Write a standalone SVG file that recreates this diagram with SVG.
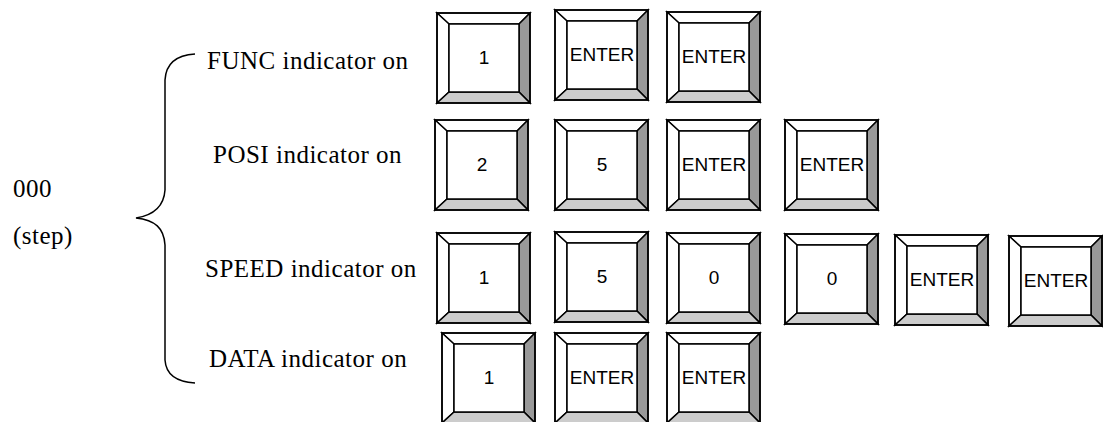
<svg xmlns="http://www.w3.org/2000/svg" xmlns:xlink="http://www.w3.org/1999/xlink" width="1103" height="422" viewBox="0 0 1103 422">
<style>
.lbl{font-family:"Liberation Serif","Times New Roman",serif;font-size:25px;letter-spacing:0.5px;fill:#000}
.key{font-family:"Liberation Sans",Arial,sans-serif;font-size:19px;fill:#000;text-anchor:middle}
.brace{fill:none;stroke:#000;stroke-width:1.5}
</style>
<defs>
<g id="keyshape" stroke="#000" stroke-width="1.5" stroke-linejoin="miter">
<polygon points="0,0 93,0 82,11 12,11" fill="#fff"/>
<polygon points="0,0 12,11 12,79 0,90" fill="#fff"/>
<polygon points="93,0 93,90 82,79 82,11" fill="#999"/>
<polygon points="0,90 12,79 82,79 93,90" fill="#ccc"/>
<rect x="12" y="11" width="70" height="68" fill="#fff"/>
<rect x="0" y="0" width="93" height="90" fill="none"/>
</g>
</defs>
<rect width="1103" height="422" fill="#fff"/>
<g id="labels">
<text class="lbl" x="13" y="197">000</text>
<text class="lbl" x="13" y="244">(step)</text>
<text class="lbl" x="207" y="69">FUNC indicator on</text>
<text class="lbl" x="213" y="163">POSI indicator on</text>
<text class="lbl" x="205" y="277">SPEED indicator on</text>
<text class="lbl" x="209" y="367">DATA indicator on</text>
</g>
<g id="connectors">
<path class="brace" d="M195,54 C178,55 166,62 165,80 L165,190 C164,205 155,215 136,218 C155,220 164,228 165,245 L165,360 C166,375 178,382 195,383"/>
</g>
<g id="r1k1" transform="translate(437,13)"><use xlink:href="#keyshape"/><text class="key" x="47" y="51">1</text></g>
<g id="r1k2" transform="translate(555,10)"><use xlink:href="#keyshape"/><text class="key" x="47" y="51">ENTER</text></g>
<g id="r1k3" transform="translate(667,12)"><use xlink:href="#keyshape"/><text class="key" x="47" y="51">ENTER</text></g>
<g id="r2k1" transform="translate(435,120)"><use xlink:href="#keyshape"/><text class="key" x="47" y="51">2</text></g>
<g id="r2k2" transform="translate(555,120)"><use xlink:href="#keyshape"/><text class="key" x="47" y="51">5</text></g>
<g id="r2k3" transform="translate(667,120)"><use xlink:href="#keyshape"/><text class="key" x="47" y="51">ENTER</text></g>
<g id="r2k4" transform="translate(785,120)"><use xlink:href="#keyshape"/><text class="key" x="47" y="51">ENTER</text></g>
<g id="r3k1" transform="translate(437,233)"><use xlink:href="#keyshape"/><text class="key" x="47" y="51">1</text></g>
<g id="r3k2" transform="translate(555,232)"><use xlink:href="#keyshape"/><text class="key" x="47" y="51">5</text></g>
<g id="r3k3" transform="translate(667,233)"><use xlink:href="#keyshape"/><text class="key" x="47" y="51">0</text></g>
<g id="r3k4" transform="translate(785,234)"><use xlink:href="#keyshape"/><text class="key" x="47" y="51">0</text></g>
<g id="r3k5" transform="translate(895,235)"><use xlink:href="#keyshape"/><text class="key" x="47" y="51">ENTER</text></g>
<g id="r3k6" transform="translate(1009,236)"><use xlink:href="#keyshape"/><text class="key" x="47" y="51">ENTER</text></g>
<g id="r4k1" transform="translate(442,333)"><use xlink:href="#keyshape"/><text class="key" x="47" y="51">1</text></g>
<g id="r4k2" transform="translate(555,333)"><use xlink:href="#keyshape"/><text class="key" x="47" y="51">ENTER</text></g>
<g id="r4k3" transform="translate(667,333)"><use xlink:href="#keyshape"/><text class="key" x="47" y="51">ENTER</text></g>
</svg>
